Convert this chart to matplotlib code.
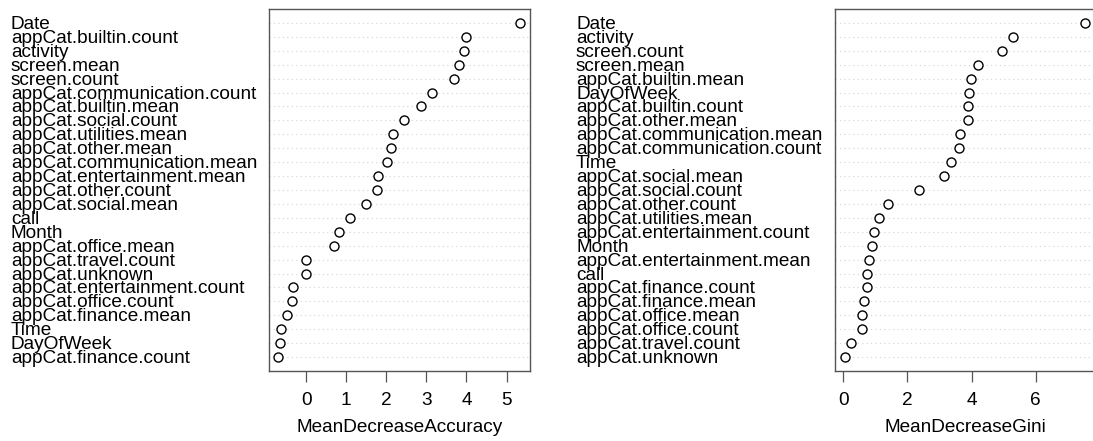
import matplotlib
matplotlib.use('Agg')
import matplotlib.pyplot as plt
import matplotlib.transforms as mtransforms

plt.rcParams['font.family'] = ['Liberation Sans', 'DejaVu Sans']

# variable importance, listed from top row to bottom row
acc_names = [
    'Date', 'appCat.builtin.count', 'activity', 'screen.mean', 'screen.count',
    'appCat.communication.count', 'appCat.builtin.mean', 'appCat.social.count',
    'appCat.utilities.mean', 'appCat.other.mean', 'appCat.communication.mean',
    'appCat.entertainment.mean', 'appCat.other.count', 'appCat.social.mean',
    'call', 'Month', 'appCat.office.mean', 'appCat.travel.count',
    'appCat.unknown', 'appCat.entertainment.count', 'appCat.office.count',
    'appCat.finance.mean', 'Time', 'DayOfWeek', 'appCat.finance.count',
]
acc_values = [
    5.34, 3.99, 3.93, 3.82, 3.70, 3.15, 2.87, 2.44, 2.16, 2.11, 2.02, 1.80,
    1.77, 1.50, 1.10, 0.81, 0.70, 0.00, 0.00, -0.33, -0.35, -0.47, -0.63,
    -0.65, -0.69,
]

gini_names = [
    'Date', 'activity', 'screen.count', 'screen.mean', 'appCat.builtin.mean',
    'DayOfWeek', 'appCat.builtin.count', 'appCat.other.mean',
    'appCat.communication.mean', 'appCat.communication.count', 'Time',
    'appCat.social.mean', 'appCat.social.count', 'appCat.other.count',
    'appCat.utilities.mean', 'appCat.entertainment.count', 'Month',
    'appCat.entertainment.mean', 'call', 'appCat.finance.count',
    'appCat.finance.mean', 'appCat.office.mean', 'appCat.office.count',
    'appCat.travel.count', 'appCat.unknown',
]
gini_values = [
    7.55, 5.28, 4.96, 4.19, 3.99, 3.91, 3.89, 3.89, 3.65, 3.62, 3.35, 3.13,
    2.37, 1.38, 1.12, 0.95, 0.89, 0.81, 0.74, 0.74, 0.65, 0.58, 0.58, 0.23,
    0.04,
]

acc_ticks = [0, 1, 2, 3, 4, 5]
gini_ticks = [0, 2, 4, 6]

W, H = 1093, 441
FS = 13.7
FRAME = '#555555'


def dotchart(fig, rect, names, values, ticks, xlabel, label_x):
    ax = fig.add_axes(rect)
    n = len(names)
    ys = list(range(n, 0, -1))
    for y in ys:
        ax.axhline(y, color='#d3d3d3', linestyle=(0, (1, 3)), linewidth=0.8, zorder=1)
    ax.plot(values, ys, linestyle='none', marker='o', markersize=6.5,
            markerfacecolor='white', markeredgecolor='black',
            markeredgewidth=1.0, zorder=3)
    ax.margins(x=0.04)
    ax.set_ylim(0, n + 1)
    ax.set_yticks([])
    ax.set_xticks(ticks)
    ax.tick_params(axis='x', length=8, width=0.9, color=FRAME, pad=7,
                   labelsize=FS)
    for s in ax.spines.values():
        s.set_color(FRAME)
        s.set_linewidth(1.0)
    ax.set_xlabel(xlabel, fontsize=FS, labelpad=7)

    # row labels sit left-aligned at a fixed x in the figure margin
    trans = mtransforms.blended_transform_factory(fig.transFigure, ax.transData)
    trans = mtransforms.offset_copy(trans, fig=fig, y=-1.5, units='dots')
    for name, y in zip(names, ys):
        ax.text(label_x / W, y, name, transform=trans, ha='left',
                va='center', fontsize=FS, clip_on=False)
    return ax


fig = plt.figure(figsize=(W / 100, H / 100), dpi=100)

dotchart(fig, [268.8 / W, 1 - 371 / H, (529.8 - 268.8) / W, 362 / H],
         acc_names, acc_values, acc_ticks, 'MeanDecreaseAccuracy', 11)
dotchart(fig, [835.0 / W, 1 - 371 / H, (1095.0 - 835.0) / W, 362 / H],
         gini_names, gini_values, gini_ticks, 'MeanDecreaseGini', 576)

fig.savefig('out.png', dpi=100)
